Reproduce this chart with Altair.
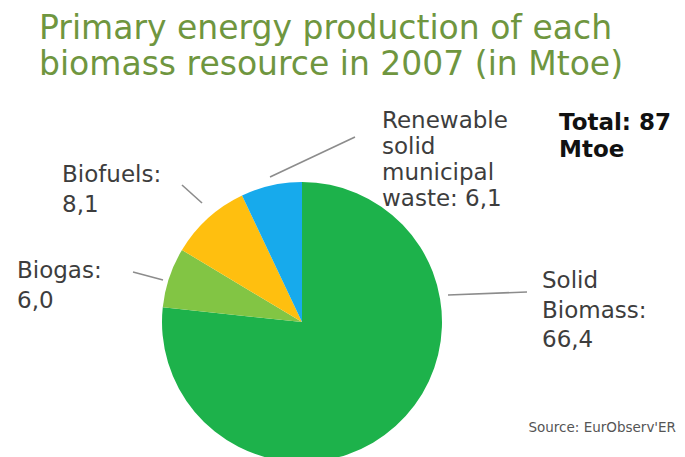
import altair as alt
import pandas as pd

# ---- data ----
categories = ["Solid Biomass", "Biogas", "Biofuels", "Renewable solid municipal waste"]
values = [66.4, 6.0, 8.1, 6.1]
colors = ["#1db24b", "#82c544", "#ffbf0f", "#17aaec"]
label_texts = [
    "Solid\nBiomass:\n66,4",
    "Biogas:\n6,0",
    "Biofuels:\n8,1",
    "Renewable\nsolid\nmunicipal\nwaste: 6,1",
]
title_lines = ["Primary energy production of each", "biomass resource in 2007 (in Mtoe)"]
total_text = "Total: 87\nMtoe"
source_text = "Source: EurObserv'ER"

# ---- layout (view pixel coordinates) ----
W, H = 669, 449
pie_cx, pie_cy, pie_r = 294, 314, 140
label_pos = [(534, 280), (9, 270), (54, 174), (374, 120)]
label_group = ["a", "a", "a", "b"]
leader = [((440, 287), (519, 284)), ((155, 272), (125, 264)),
          ((194, 195), (174, 177)), ((262, 169), (347, 129))]

pie_df = pd.DataFrame({"category": categories, "value": values, "order": list(range(len(values)))})
lab_df = pd.DataFrame({"category": categories, "text": label_texts, "group": label_group,
                       "x": [p[0] for p in label_pos], "y": [p[1] for p in label_pos]})
lead_df = pd.DataFrame({"category": categories,
                        "x": [l[0][0] for l in leader], "y": [l[0][1] for l in leader],
                        "x2": [l[1][0] for l in leader], "y2": [l[1][1] for l in leader]})
title_df = pd.DataFrame({"text": ["\n".join(title_lines)], "x": [31], "y": [31]})

xs = alt.Scale(domain=[0, W], range=[0, W])
ys = alt.Scale(domain=[0, H], range=[0, H])
X = alt.X("x:Q", scale=xs, axis=None)
Y = alt.Y("y:Q", scale=ys, axis=None)

pie = alt.Chart(pie_df).mark_arc(radius=pie_r, stroke=None).encode(
    theta=alt.Theta("value:Q", stack=True),
    color=alt.Color("category:N", scale=alt.Scale(domain=categories, range=colors), legend=None),
    order=alt.Order("order:Q"),
    x=alt.value(pie_cx), y=alt.value(pie_cy),
)

leads = alt.Chart(lead_df).mark_rule(color="#8c8c8c", strokeWidth=1.6).encode(
    x=X, y=Y, x2="x2:Q", y2="y2:Q",
)

label_style = dict(font="DejaVu Sans", fontSize=23, color="#3d3d3d", align="left",
                   baseline="alphabetic", lineBreak="\n")
labels_a = alt.Chart(lab_df).transform_filter(alt.datum.group == "a").mark_text(
    lineHeight=29.5, **label_style).encode(x=X, y=Y, text="text:N")
labels_b = alt.Chart(lab_df).transform_filter(alt.datum.group == "b").mark_text(
    lineHeight=26, **label_style).encode(x=X, y=Y, text="text:N")

title = alt.Chart(title_df).mark_text(
    font="DejaVu Sans", fontSize=33, color="#6f963f", align="left", baseline="alphabetic",
    lineBreak="\n", lineHeight=35.5,
).encode(x=X, y=Y, text="text:N")

total = alt.Chart(pd.DataFrame({"text": [total_text], "x": [551], "y": [122]})).mark_text(
    font="DejaVu Sans", fontSize=23, fontWeight="bold", color="#111111", align="left",
    baseline="alphabetic", lineBreak="\n", lineHeight=27,
).encode(x=X, y=Y, text="text:N")

source = alt.Chart(pd.DataFrame({"text": [source_text], "x": [668], "y": [424]})).mark_text(
    font="DejaVu Sans", fontSize=13.5, color="#555555", align="right", baseline="alphabetic",
).encode(x=X, y=Y, text="text:N")

chart = alt.layer(pie, leads, labels_a, labels_b, title, total, source).properties(
    width=W, height=H, padding=0, autosize=alt.AutoSizeParams(type="none"),
).configure_view(stroke=None)

chart.save("out.html", embed_options={"renderer": "svg", "actions": False})
